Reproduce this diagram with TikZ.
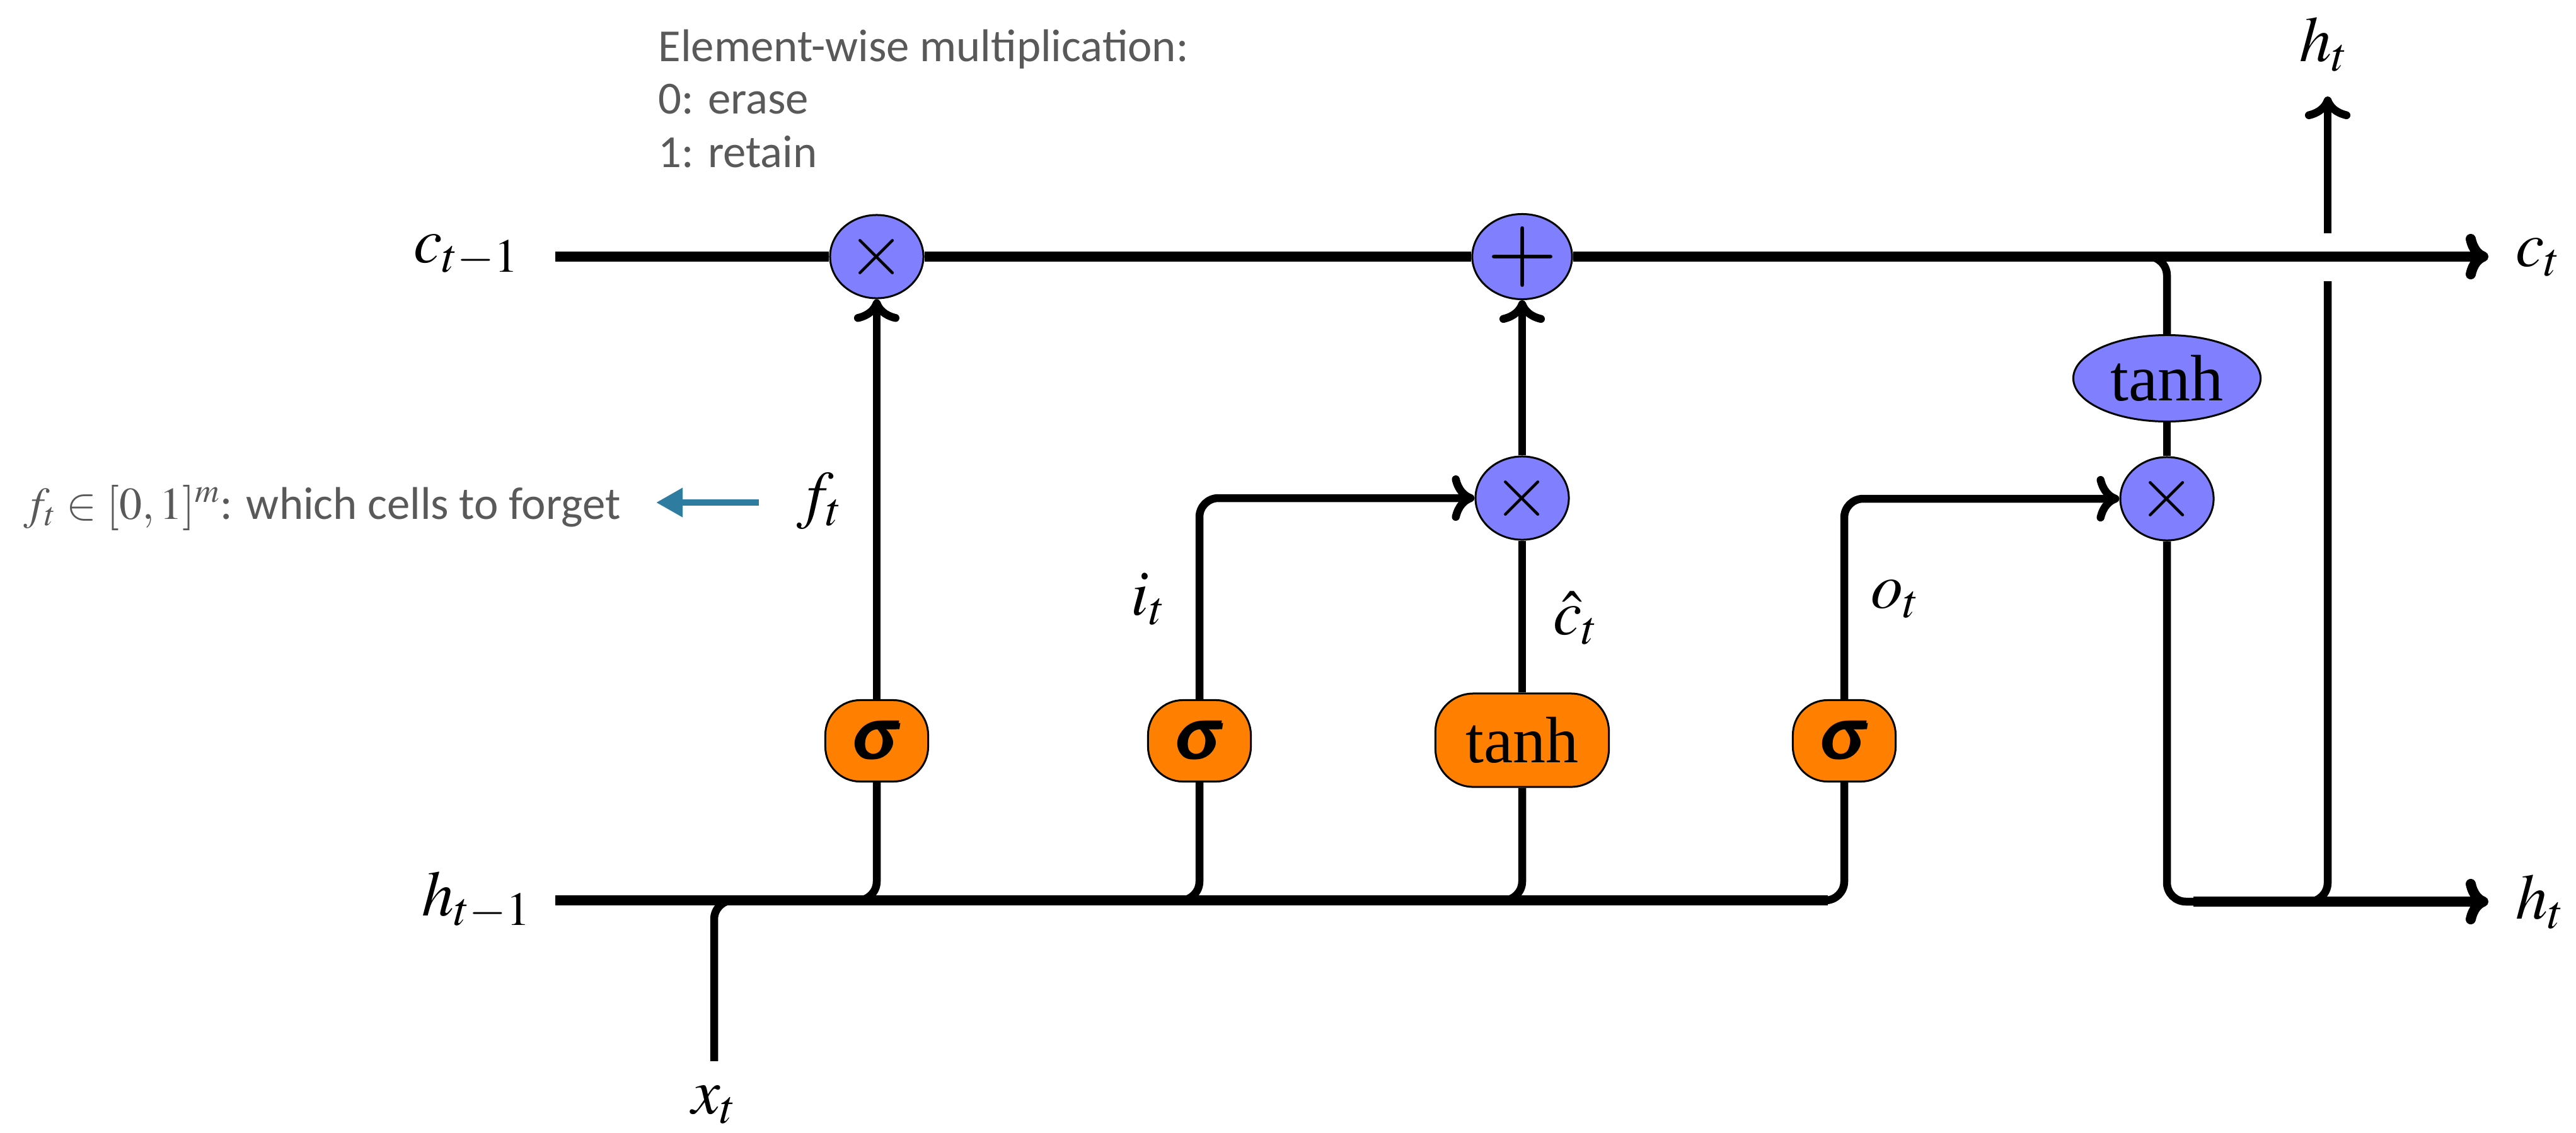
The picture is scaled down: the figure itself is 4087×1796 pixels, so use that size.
\documentclass[tikz,border=0pt]{standalone}
\usepackage{mathptmx}
\usepackage{bm}
\usepackage{fontspec}
\setmainfont{Liberation Serif}
\newfontfamily\annot{Carlito}
\usetikzlibrary{arrows.meta,shapes.geometric}
\definecolor{opblue}{RGB}{128,128,255}
\definecolor{gateorange}{RGB}{255,127,0}
\definecolor{annotgray}{RGB}{89,89,89}
\definecolor{arrowteal}{RGB}{46,125,161}
\begin{document}
\begin{tikzpicture}[x=0.01cm,y=-0.01cm,
  mainline/.style={line width=0.16cm},
  branchline/.style={line width=0.125cm},
  tip/.style={-{Computer Modern Rightarrow[length=0.36cm,width=0.72cm]}},
  opnode/.style={ellipse,draw=black,line width=0.03cm,fill=opblue,inner sep=0pt,
    minimum width=1.48cm,minimum height=1.32cm,font=\fontsize{33}{33}\selectfont},
  gatenode/.style={rectangle,rounded corners=0.55cm,draw=black,line width=0.03cm,
    fill=gateorange,inner sep=0pt,minimum width=1.63cm,minimum height=1.29cm,
    font=\fontsize{32}{32}\selectfont},
  lbl/.style={inner sep=0pt,font=\fontsize{29}{34}\selectfont},
  note/.style={anchor=base west,inner sep=0pt,text=annotgray,font=\annot\fontsize{20.7}{24}\selectfont},
]
\useasboundingbox (0,0) rectangle (4087,1796);

% operation nodes
\node[opnode] (m1) at (1391,407) {$\times$};
\node[opnode,font=\fontsize{41}{41}\selectfont] (p) at (2415,407) {$+$};
\node[opnode] (m2) at (2415,790) {$\times$};
\node[opnode] (m3) at (3438,791) {$\times$};
\node[opnode,minimum width=2.97cm,minimum height=1.37cm,font=\fontsize{29.6}{30}\selectfont] (tb) at (3438,600) {tanh};

% gates
\node[gatenode] (s1) at (1391,1175) {$\bm{\sigma}$};
\node[gatenode] (s2) at (1903,1175) {$\bm{\sigma}$};
\node[gatenode,minimum width=2.75cm,minimum height=1.48cm,rounded corners=0.6cm,
  font=\fontsize{29.6}{30}\selectfont] (tg) at (2415,1174) {tanh};
\node[gatenode] (s3) at (2926,1175) {$\bm{\sigma}$};

% coordinates
\coordinate (cin) at (881,407);
\coordinate (cout) at (3948,407);
\coordinate (cbr) at (3300,407);
\coordinate (hin) at (881,1428);
\coordinate (hend) at (2900,1428);
\coordinate (hout) at (3948,1430);
\coordinate (hbr) at (3480,1430);
\coordinate (xin) at (1133,1683);
\coordinate (htop) at (3693,153);
\coordinate (gapbot) at (3693,446);
\coordinate (gaptop) at (3693,370);

% cell state line
\draw[mainline] (cin) -- (m1);
\draw[mainline] (m1) -- (p);
\draw[mainline,tip] (p) -- (cout);
\draw[branchline,rounded corners=0.3cm] (cbr) -- (cbr -| tb.north) -- (tb.north);
\draw[branchline] (tb) -- (m3);
\draw[branchline,rounded corners=0.3cm] (m3) -- (m3 |- hout) -- (gapbot |- hout) -- (gapbot);
\draw[branchline,tip] (gaptop) -- (htop);
\draw[mainline,tip] (hbr) -- (hout);

% hidden input line
\draw[mainline] (hin) -- (hend);
\draw[branchline,rounded corners=0.3cm] ([xshift=-0.6cm]s1 |- hin) -- (s1 |- hin) -- (s1);
\draw[branchline,rounded corners=0.3cm] ([xshift=-0.6cm]s2 |- hin) -- (s2 |- hin) -- (s2);
\draw[branchline,rounded corners=0.3cm] ([xshift=-0.6cm]tg |- hin) -- (tg |- hin) -- (tg);
\draw[branchline,rounded corners=0.3cm] ([xshift=-0.6cm]s3 |- hin) -- (s3 |- hin) -- (s3);
\draw[branchline,rounded corners=0.3cm] (xin) -- (xin |- hin) -- ([xshift=0.7cm]xin |- hin);

% gate outputs
\draw[branchline,tip] (s1) -- (m1);
\draw[branchline,tip,rounded corners=0.3cm] (s2) -- (s2 |- m2) -- (m2);
\draw[branchline] (tg) -- (m2);
\draw[branchline,tip] (m2) -- (p);
\draw[branchline,tip,rounded corners=0.3cm] (s3) -- (s3 |- m3) -- (m3);

% labels
\node[lbl] (lct1) at (740,405) {$c_{t-1}$};
\node[lbl] (lht1) at (756,1428) {$h_{t-1}$};
\node[lbl] (lxt) at (1133,1752) {$x_t$};
\node[lbl] (lft) at (1300,795) {$f_t$};
\node[lbl] (lit) at (1822,950) {$i_t$};
\node[lbl] (lhc) at (2500,980) {$\hat{c}_t$};
\node[lbl] (lot) at (3007,950) {$o_t$};
\node[lbl] (lhtt) at (3687,70) {$h_t$};
\node[lbl] (lctr) at (4027,408) {$c_t$};
\node[lbl] (lhtr) at (4030,1430) {$h_t$};

% annotations
\node[note] (n1) at (1044,97) {Element-wise multiplication:};
\node[note] (n2) at (1044,180) {0: erase};
\node[note] (n3) at (1044,265) {1: retain};
\node[note] (fnote) at (37,823) {{\fontsize{20.5}{22}\selectfont$f_t\in[0,1]^m$}: which cells to forget};
\coordinate (ta) at (1204,797);
\coordinate (tb2) at (1041,797);
\draw[arrowteal,line width=0.1cm,-{Triangle[length=0.42cm,width=0.44cm]}] (ta) -- (tb2);
\end{tikzpicture}
\end{document}
